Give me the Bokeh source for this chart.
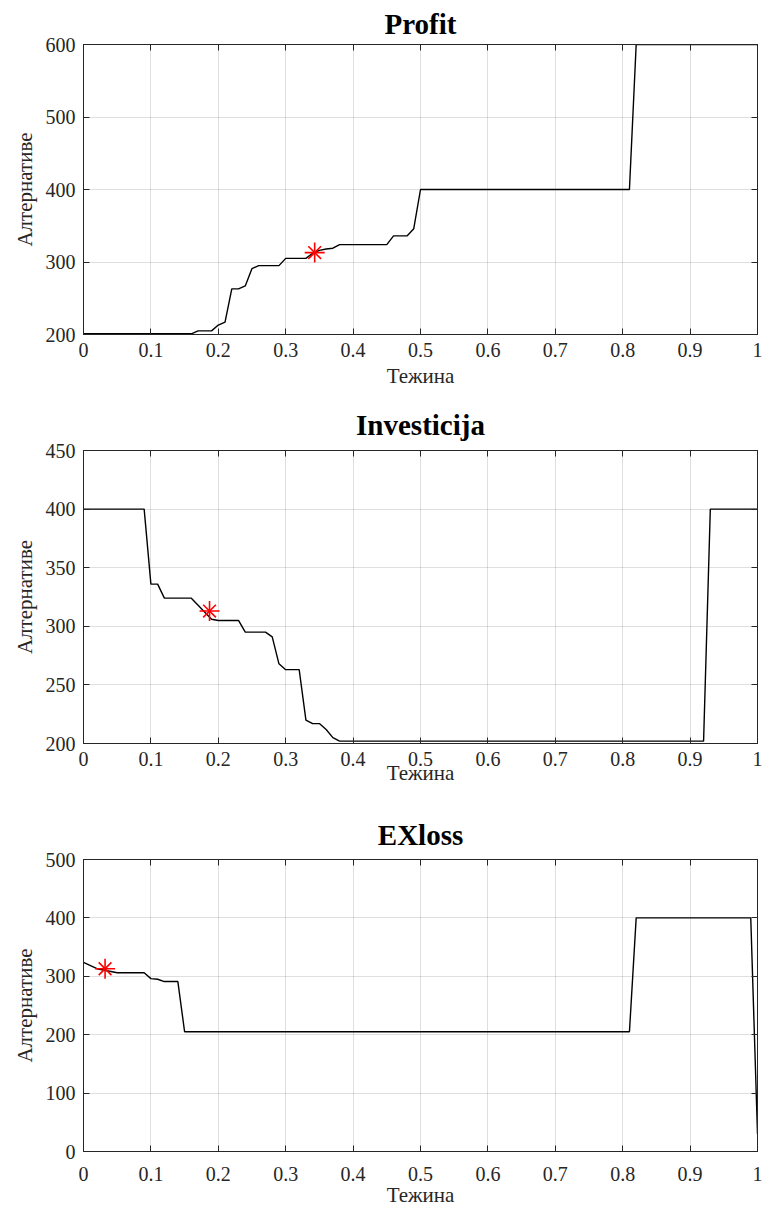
from bokeh.plotting import figure
from bokeh.layouts import column
from bokeh.models import Range1d, LinearAxis, FixedTicker, NumeralTickFormatter, CustomJSTickFormatter
from bokeh.embed import file_html
from bokeh.resources import INLINE

# ---- data ----
x_ticks = [0, 0.1, 0.2, 0.3, 0.4, 0.5, 0.6, 0.7, 0.8, 0.9, 1.0]

profit_w = [0, 0.16, 0.17, 0.19, 0.20, 0.21, 0.22, 0.23, 0.24, 0.25, 0.26, 0.29, 0.30, 0.33,
            0.34, 0.35, 0.36, 0.37, 0.38, 0.45, 0.46, 0.48, 0.49, 0.50, 0.81, 0.82, 1.0]
profit_alt = [201, 201, 205, 205, 213, 217, 263, 263, 267, 291, 295, 295, 305, 305,
              312, 316, 318, 319, 324, 324, 336, 336, 346, 400, 400, 600, 600]
profit_star_w = [0.343]
profit_star_alt = [313]
profit_y_ticks = [200, 300, 400, 500, 600]

inv_w = [0, 0.09, 0.10, 0.11, 0.12, 0.16, 0.17, 0.18, 0.19, 0.20, 0.23, 0.24, 0.27, 0.28,
         0.29, 0.30, 0.32, 0.33, 0.34, 0.35, 0.36, 0.37, 0.38, 0.92, 0.93, 1.0]
inv_alt = [400, 400, 336, 336, 324, 324, 318, 312, 306, 305, 305, 295, 295, 291,
           268, 263, 263, 220, 217, 217, 212, 205, 202, 202, 400, 400]
inv_star_w = [0.187]
inv_star_alt = [313]
inv_y_ticks = [200, 250, 300, 350, 400, 450]

exl_w = [0, 0.02, 0.05, 0.09, 0.10, 0.11, 0.12, 0.14, 0.15, 0.81, 0.82, 0.99, 1.0]
exl_alt = [324, 313, 306, 306, 296, 295, 291, 291, 205, 205, 400, 400, 30]
exl_star_w = [0.032]
exl_star_alt = [313]
exl_y_ticks = [0, 100, 200, 300, 400, 500]

SERIF = "Liberation Serif"
AX = "#262626"


def make(title, w, a, sw, sa, yr, yt, height, top, bottom,
         title_standoff, xlab_standoff, xlabel_standoff):
    p = figure(width=766, height=height, output_backend="svg", toolbar_location=None,
               x_range=Range1d(0, 1), y_range=Range1d(*yr),
               min_border_left=83, min_border_right=9,
               min_border_top=top, min_border_bottom=bottom)
    p.title.text = title
    p.title.text_font = SERIF
    p.title.text_font_size = "29px"
    p.title.text_font_style = "bold"
    p.title.align = "center"
    p.title.text_color = "black"
    p.title.standoff = title_standoff
    p.background_fill_color = "white"
    p.border_fill_color = "white"
    p.outline_line_color = AX

    p.xaxis.ticker = FixedTicker(ticks=x_ticks)
    p.xaxis.formatter = NumeralTickFormatter(format="0.[0]")
    p.yaxis.ticker = FixedTicker(ticks=yt)
    p.xaxis.axis_label = "Тежина"
    p.yaxis.axis_label = "Алтернативе"
    for ax in (p.xaxis[0], p.yaxis[0]):
        ax.axis_label_text_font = SERIF
        ax.axis_label_text_font_size = "21px"
        ax.axis_label_text_font_style = "normal"
        ax.axis_label_text_color = AX
        ax.major_label_text_font = SERIF
        ax.major_label_text_font_size = "20px"
        ax.major_label_text_color = AX
        ax.major_tick_in = 6
        ax.major_tick_out = 0
        ax.minor_tick_line_color = None
        ax.axis_line_color = AX
        ax.major_tick_line_color = AX
        ax.major_label_standoff = 8
        ax.axis_label_standoff = 6
    p.xaxis.major_label_standoff = xlab_standoff
    p.xaxis.axis_label_standoff = xlabel_standoff
    p.yaxis.major_label_orientation = "horizontal"

    for loc, tk in (("above", x_ticks), ("right", yt)):
        ext = LinearAxis(ticker=FixedTicker(ticks=tk),
                         formatter=CustomJSTickFormatter(code="return ''"))
        ext.major_tick_in = 6
        ext.major_tick_out = 0
        ext.minor_tick_line_color = None
        ext.axis_line_color = AX
        ext.major_tick_line_color = AX
        ext.major_label_text_font_size = "1px"
        ext.major_label_standoff = 0
        p.add_layout(ext, loc)

    p.grid.grid_line_color = AX
    p.grid.grid_line_alpha = 0.15
    p.xgrid.ticker = FixedTicker(ticks=x_ticks)
    p.ygrid.ticker = FixedTicker(ticks=yt)

    p.line(w, a, line_color="black", line_width=1.4)
    p.scatter(sw, sa, marker="cross", size=20, line_color="red", line_width=1.6)
    p.scatter(sw, sa, marker="x", size=18, line_color="red", line_width=1.6)
    return p


p1 = make("Profit", profit_w, profit_alt, profit_star_w, profit_star_alt,
          (200, 600), profit_y_ticks, 396, 43, 62, 10, 8, 4)
p2 = make("Investicija", inv_w, inv_alt, inv_star_w, inv_star_alt,
          (200, 450), inv_y_ticks, 404, 54, 57, 20, 8, -8)
p3 = make("EXloss", exl_w, exl_alt, exl_star_w, exl_star_alt,
          (0, 500), exl_y_ticks, 411, 59, 60, 17, 15, -1)

layout = column(p1, p2, p3, spacing=0)
open("out.html", "w").write(file_html(layout, INLINE))
